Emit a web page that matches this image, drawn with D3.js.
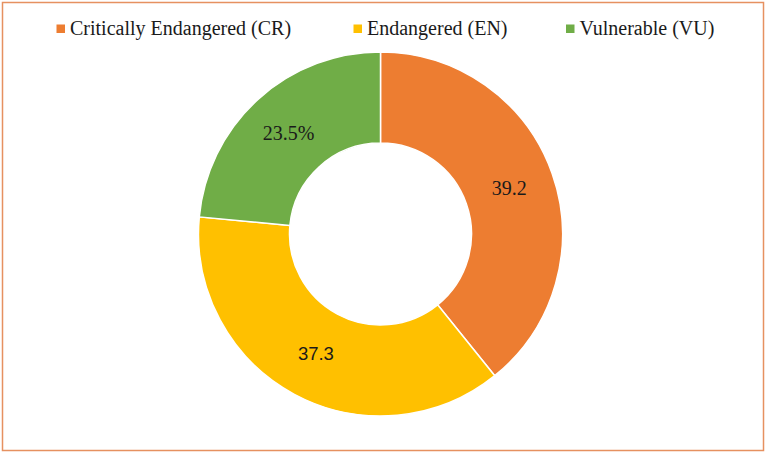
<!DOCTYPE html>
<html>
<head>
<meta charset="utf-8">
<script src="https://cdn.jsdelivr.net/npm/d3@7"></script>
<style>
  body { margin: 0; background: #fff; }
  svg { display: block; }
</style>
</head>
<body>
<div id="container"></div>
<script>
/* DATA */
const categories = ["Critically Endangered (CR)", "Endangered (EN)", "Vulnerable (VU)"];
const values = [39.2, 37.3, 23.5];
const labels = ["39.2", "37.3", "23.5%"];
const colors = ["#ED7D31", "#FFC000", "#70AD47"];

/* CONSTANTS */
const width = 766, height = 453;
const cx = 380.5, cy = 234;
const outerR = 182, innerR = 91;
const serif = "'Liberation Serif', 'Times New Roman', serif";
const sans = "'Liberation Sans', Arial, sans-serif";

const svg = d3.select("#container")
  .append("svg")
  .attr("width", width)
  .attr("height", height);

// frame
svg.append("rect")
  .attr("x", 2.5).attr("y", 2.5)
  .attr("width", width - 5).attr("height", height - 5)
  .attr("fill", "#fff")
  .attr("stroke", "#E69160")
  .attr("stroke-width", 1.5);

const color = d3.scaleOrdinal().domain(categories).range(colors);

const pie = d3.pie().sort(null).value(d => d.value);
const arcs = pie(categories.map((c, i) => ({ cat: c, value: values[i], label: labels[i] })));

const arc = d3.arc().innerRadius(innerR).outerRadius(outerR);

const g = svg.append("g").attr("transform", `translate(${cx},${cy})`);

g.selectAll("path")
  .data(arcs)
  .join("path")
  .attr("d", arc)
  .attr("fill", d => color(d.data.cat))
  .attr("stroke", "#fff")
  .attr("stroke-width", 1.5);

// data labels at slice centroids (the EN one is set in a sans face in the original)
g.selectAll(".lbl")
  .data(arcs)
  .join("text")
  .attr("class", "lbl")
  .attr("x", d => arc.centroid(d)[0])
  .attr("y", d => arc.centroid(d)[1])
  .attr("dy", "0.33em")
  .attr("text-anchor", "middle")
  .attr("font-family", d => d.index === 1 ? sans : serif)
  .attr("font-size", d => d.index === 1 ? "18.5px" : "20px")
  .attr("fill", "#1a1a1a")
  .text(d => d.data.label);

// legend
const legendX = [56.5, 353.5, 566];
const legend = svg.selectAll(".legend")
  .data(categories)
  .join("g")
  .attr("class", "legend")
  .attr("transform", (d, i) => `translate(${legendX[i]},0)`);

legend.append("rect")
  .attr("x", 0).attr("y", 24.5)
  .attr("width", 8.5).attr("height", 8.5)
  .attr("fill", d => color(d));

legend.append("text")
  .attr("x", 13.5).attr("y", 35)
  .attr("font-family", serif)
  .attr("font-size", "20px")
  .attr("fill", "#1a1a1a")
  .text(d => d);
</script>
</body>
</html>
